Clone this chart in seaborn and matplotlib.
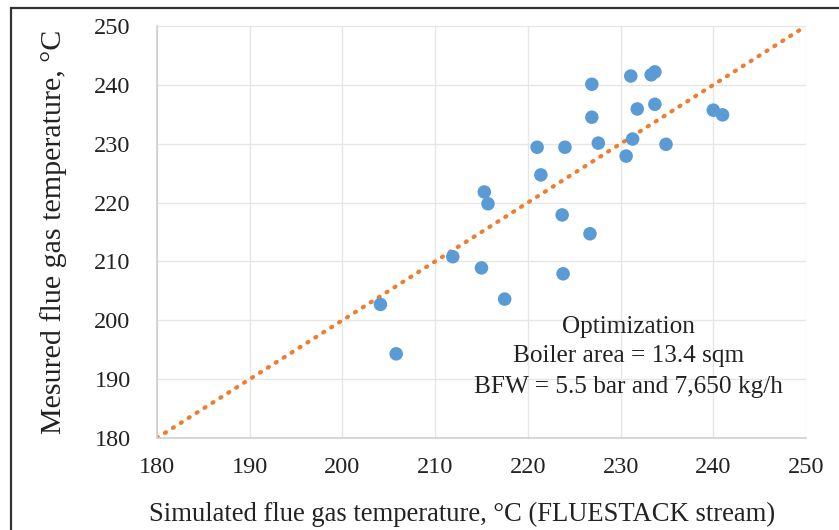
import matplotlib
matplotlib.use("Agg")
import matplotlib.pyplot as plt
import seaborn as sns
import pandas as pd
from matplotlib.patches import Rectangle

simulated = [204.1, 205.8, 211.9, 215.0, 215.3, 215.7, 217.5, 221.0, 221.4, 224.0,
             223.7, 223.8, 226.9, 226.9, 226.7, 227.6, 230.6, 231.1, 231.3, 231.8,
             233.3, 233.7, 233.7, 234.9, 240.0, 241.0]
measured = [202.7, 194.3, 210.8, 208.9, 221.8, 219.8, 203.6, 229.4, 224.7, 229.4,
            217.9, 207.9, 240.1, 234.5, 214.7, 230.1, 227.9, 241.5, 230.8, 235.9,
            241.7, 242.2, 236.7, 229.9, 235.7, 234.9]
ref_line = [180, 250]
ticks = [180, 190, 200, 210, 220, 230, 240, 250]
notes = ["Optimization", "Boiler area = 13.4 sqm", "BFW = 5.5 bar and 7,650 kg/h"]

sns.set_theme(style="white")
plt.rcParams['font.family'] = ['Liberation Serif', 'DejaVu Serif']

df = pd.DataFrame({"sim": simulated, "meas": measured})
line_df = pd.DataFrame({"x": ref_line, "y": ref_line})

fig = plt.figure(figsize=(8.39, 5.30), dpi=100)
ax = fig.add_axes([157/839, 1-438/530, (806-157)/839, (438-26)/530])

sns.lineplot(data=line_df, x="x", y="y", ax=ax, color="#ED7D31", linewidth=3.0,
             linestyle=(0, (0.3, 1.95)), zorder=2)
ax.lines[-1].set_dash_capstyle("round")
sns.scatterplot(data=df, x="sim", y="meas", ax=ax, color="#5B9BD5", s=95,
                edgecolor="none", zorder=3)

ax.set_xlim(180, 250)
ax.set_ylim(180, 250)
ax.set_xticks(ticks)
ax.set_yticks(ticks)
ax.tick_params(axis="both", labelsize=17.5, length=0, colors="#222222")
ax.tick_params(axis="x", pad=14)
ax.tick_params(axis="y", pad=19)
ax.grid(True, color="#e6e6e6", linewidth=1)
for s in ["top", "right"]:
    ax.spines[s].set_visible(False)
for s in ["left", "bottom"]:
    ax.spines[s].set_color("#cfcfcf")
    ax.spines[s].set_linewidth(1.2)

ax.set_xlabel("Simulated flue gas temperature, °C (FLUESTACK stream)", fontsize=19.2,
              color="#222222")
ax.set_ylabel("Mesured flue gas temperature, °C", fontsize=21.6, color="#222222")
ax.xaxis.set_label_coords((462-157)/649, -(514-438)/412, transform=ax.transAxes)
ax.xaxis.label.set_va("center")
ax.yaxis.set_label_coords(-(157-54)/649, 0.5, transform=ax.transAxes)
ax.yaxis.label.set_va("center")

ys = [198.9, 193.9, 188.7]
for t, yv in zip(notes, ys):
    ax.text(230.9, yv, t, ha="center", va="center", fontsize=18.2, color="#222222")

fig.patches.append(Rectangle((11/839, -0.1), 1.2, 1-8/530+0.1, transform=fig.transFigure,
                             fill=False, edgecolor="#333333", linewidth=1.6))

fig.savefig("out.png", dpi=100)
